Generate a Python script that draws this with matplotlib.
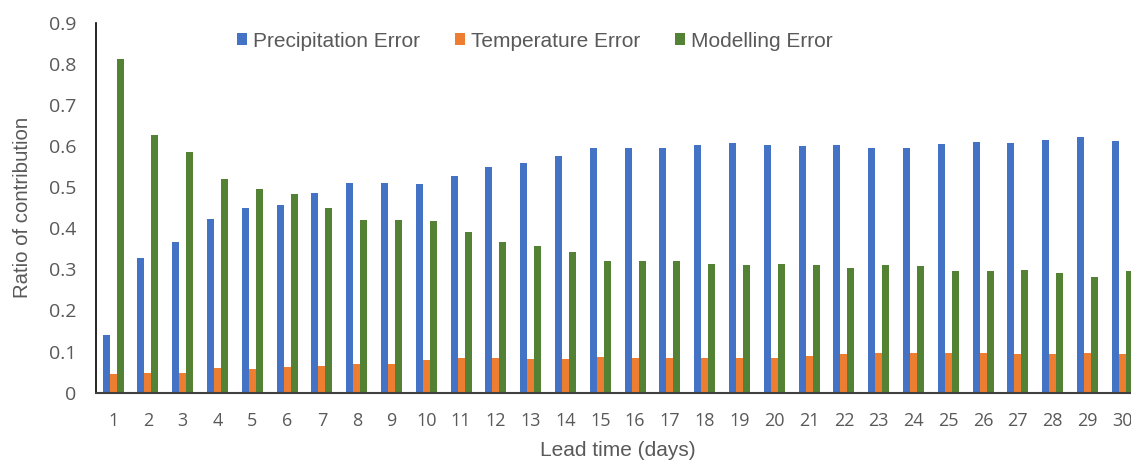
import matplotlib
matplotlib.use("Agg")
import matplotlib.pyplot as plt
import numpy as np

plt.rcParams["font.family"] = ["Liberation Sans", "DejaVu Sans"]

lead_days = list(range(1, 31))
precip_error = [0.140, 0.327, 0.366, 0.423, 0.450, 0.457, 0.485, 0.511, 0.509, 0.507,
                0.527, 0.548, 0.558, 0.575, 0.594, 0.595, 0.595, 0.603, 0.607, 0.603,
                0.600, 0.603, 0.594, 0.596, 0.606, 0.609, 0.608, 0.615, 0.623, 0.612]
temp_error = [0.045, 0.047, 0.048, 0.059, 0.057, 0.062, 0.066, 0.069, 0.071, 0.079,
              0.084, 0.084, 0.083, 0.083, 0.087, 0.085, 0.085, 0.085, 0.084, 0.085,
              0.089, 0.094, 0.097, 0.096, 0.097, 0.097, 0.094, 0.094, 0.096, 0.094]
model_error = [0.812, 0.628, 0.586, 0.519, 0.495, 0.483, 0.449, 0.420, 0.420, 0.417,
               0.390, 0.367, 0.358, 0.343, 0.320, 0.320, 0.320, 0.313, 0.310, 0.312,
               0.311, 0.304, 0.310, 0.309, 0.296, 0.295, 0.298, 0.291, 0.282, 0.295]

series = [
    ("Precipitation Error", precip_error, "#4472C4"),
    ("Temperature Error", temp_error, "#ED7D31"),
    ("Modelling Error", model_error, "#548235"),
]

text_col = "#595959"
tick_font = ["Open Sans", "DejaVu Sans"]

fig = plt.figure(figsize=(11.31, 4.61), dpi=100)
# plot area runs past the right edge of the picture, as in the cropped original
ax = fig.add_axes([95.7 / 1131, 1 - 392.7 / 461, 1044 / 1131, (392.7 - 22.7) / 461])

x = np.arange(len(lead_days))
w = 0.2
for k, (name, vals, col) in enumerate(series):
    ax.bar(x + (k - 1) * w, vals, width=w, color=col, label=name, zorder=2)

ax.set_xlim(-0.5, len(lead_days) - 0.5)
ax.set_ylim(0, 0.9)
ax.set_yticks(np.arange(0, 0.91, 0.1))
ax.set_yticklabels(["0"] + [f"{v:.1f}" for v in np.arange(0.1, 0.91, 0.1)],
                   family=tick_font, fontsize=14)
ax.set_xticks(x)
ax.set_xticklabels([str(d) for d in lead_days], family=tick_font, fontsize=13)
ax.tick_params(axis="both", length=0, colors=text_col)
ax.tick_params(axis="x", pad=14)
ax.tick_params(axis="y", pad=14)

for s in ["top", "right"]:
    ax.spines[s].set_visible(False)
ax.spines["left"].set_color("black")
ax.spines["bottom"].set_color("#404040")
ax.spines["left"].set_linewidth(1.2)
ax.spines["bottom"].set_linewidth(1.5)

ax.set_ylabel("Ratio of contribution", fontsize=14.7, color=text_col, labelpad=12)
ax.set_xlabel("Lead time (days)", fontsize=15, color=text_col, labelpad=8)

leg = ax.legend(loc="center left", bbox_to_anchor=((237 - 95.7) / 1044, 0.95), ncol=3,
                frameon=False, fontsize=15, handlelength=0.48, handleheight=0.48,
                handletextpad=0.3, columnspacing=1.65, borderaxespad=0.0, borderpad=0.0)
for t in leg.get_texts():
    t.set_color(text_col)

fig.savefig("out.png", dpi=100)
